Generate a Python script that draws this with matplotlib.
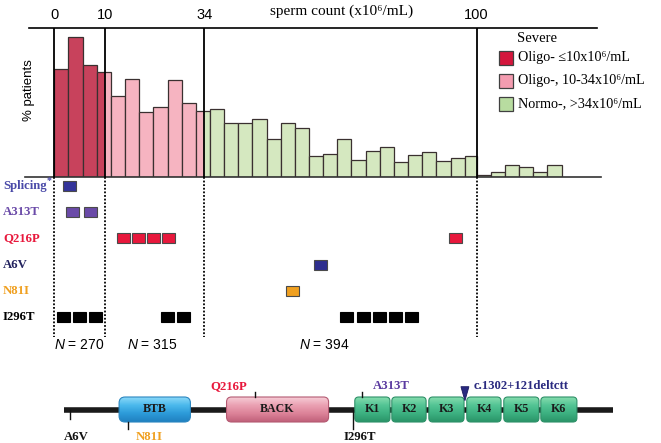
import numpy as np
import matplotlib.pyplot as plt
from matplotlib.patches import Rectangle, FancyBboxPatch, Polygon
from matplotlib.colors import LinearSegmentedColormap

plt.rcParams['mathtext.fontset'] = 'custom'
plt.rcParams['mathtext.it'] = 'Liberation Sans:italic'
plt.rcParams['mathtext.rm'] = 'Liberation Sans'

SERIF = ['Liberation Serif', 'DejaVu Serif']
SANS = ['Liberation Sans', 'DejaVu Sans']

# % patients per sperm-count bin (bins drawn with equal width)
pct_main = [7.25, 9.4, 7.54, 7.03, 5.42, 6.56, 4.36, 4.68, 6.54, 4.97,
            4.46, 4.56, 3.6, 3.6, 3.89, 2.55, 3.64, 3.29, 1.43, 1.54,
            2.55, 1.16, 1.77, 2.01, 1.03, 1.46, 1.68, 1.09, 1.3, 1.41]
pct_tail = [0.13, 0.36, 0.78, 0.64, 0.34, 0.78]   # > 100 x10^6/mL

cut_labels = ['0', '10', '34', '100']
cut_pos = [0, 3.56, 10.61, 29.85]   # cut-offs on the bin axis

group_n = ['270', '315', '394']
group_n_pos = [1.75, 6.9, 19.1]

leg_labels = ['Oligo- \u226410x10\u2076/mL', 'Oligo-, 10-34x10\u2076/mL',
              'Normo-, >34x10\u2076/mL']
leg_colors = ['#d4163c', '#f49cb0', '#b8dca0']

# carriers of each variant, placed on the bin axis
mut_names = ['Splicing', 'A313T', 'Q216P', 'A6V', 'N81I', 'I296T']
mut_colors = ['#34349a', '#6a4aa8', '#e8183c', '#2e2e8e', '#f0a020', '#000000']
mut_text_colors = ['#4a4aa8', '#6a4aa8', '#e8183c', '#22225e', '#f0a020', '#000000']
carriers = [
    [1.07],
    [1.32, 2.57],
    [4.86, 5.94, 7.0, 8.08, 28.37],
    [18.8],
    [16.8],
    [0.64, 1.77, 2.93, 7.98, 9.12, 20.66, 21.82, 22.95, 24.09, 25.23],
]

# protein schematic (schematic residue positions)
prot_len = 608
dom_names = ['BTB', 'BACK', 'K1', 'K2', 'K3', 'K4', 'K5', 'K6']
dom_start = [61, 180, 322, 363, 404, 446, 487, 528]
dom_end = [140, 293, 361, 401, 443, 484, 526, 568]
site_names = ['A6V', 'N81I', 'Q216P', 'I296T', 'A313T']
site_pos = [6.6, 70.5, 212, 320, 330]
site_colors = ['#111111', '#f0a020', '#e8183c', '#111111', '#5a3aa0']
splice_pos = 444
splice_label = 'c.1302+121deltctt'

W, H = 661, 443
fig = plt.figure(figsize=(W / 100, H / 100), dpi=100)


def fx(px):
    return px / W


def fy(py):
    return 1 - py / H


BIN_PX, X0_PX = 14.15, 54.3
xlim = (-X0_PX / BIN_PX, (W - X0_PX) / BIN_PX)

# ---- histogram ----
ax = fig.add_axes([0, fy(177), 1, (177 - 28) / H])
ax.set_xlim(*xlim)
ax.set_ylim(0, 10)
ax.axis('off')

dark, pink, green = '#c8425c', '#f6b4c1', '#d5e8c0'
edge = '#3a3030'
segs = [(cut_pos[0], cut_pos[1], dark), (cut_pos[1], cut_pos[2], pink),
        (cut_pos[2], cut_pos[3], green)]
for i, h in enumerate(pct_main):
    left, right = i, min(i + 1, cut_pos[3])
    for a, b, c in segs:
        l, r = max(left, a), min(right, b)
        if r > l:
            ax.bar(l, h, width=r - l, align='edge', color=c, lw=0)
    ax.bar(left, h, width=right - left, align='edge', fill=False,
           edgecolor=edge, lw=0.9)
ax.bar(cut_pos[3] + np.arange(len(pct_tail)), pct_tail, width=1,
       align='edge', color=green, edgecolor=edge, lw=0.9)

ax.vlines(cut_pos, 0, 10, color='black', lw=1.3, zorder=4)
ax.plot([-1.79, 38.36], [10, 10], color='black', lw=1.2, clip_on=False)
ax.plot([-2.07, 38.65], [0, 0], color='#333333', lw=1.2, clip_on=False)
for p, lab in zip(cut_pos, cut_labels):
    ax.annotate(lab, xy=(p, 1), xycoords=('data', 'axes fraction'),
                xytext=(0, 9.5), textcoords='offset points', ha='center',
                va='center', fontsize=10.5, family=SANS)

fig.text(fx(342), fy(11), 'sperm count (x10\u2076/mL)', ha='center',
         va='center', fontsize=11, family=SERIF)
fig.text(fx(29), fy(90), '% patients', rotation=90, ha='center',
         va='center', fontsize=9.5, family=SANS)

# legend drawn by hand
fig.text(fx(517.5), fy(38), 'Severe', ha='left', va='center',
         fontsize=10.5, family=SERIF)
for k, (lab, c) in enumerate(zip(leg_labels, leg_colors)):
    yc = 57.5 + 23.3 * k
    fig.add_artist(Rectangle((fx(499), fy(yc + 7)), 14 / W, 14 / H,
                             transform=fig.transFigure, fc=c,
                             ec='#404040', lw=0.9))
    fig.text(fx(518), fy(yc), lab, ha='left', va='center',
             fontsize=10.2, family=SERIF)

# ---- carrier rows ----
ROW0, ROW_PX = 186, 26.2
ax2 = fig.add_axes([0, fy(345), 1, (345 - 177) / H])
ax2.set_xlim(*xlim)
ax2.set_ylim((345 - ROW0) / ROW_PX, (177 - ROW0) / ROW_PX)
ax2.axis('off')
ax2.vlines(cut_pos, (177 - ROW0) / ROW_PX, (337 - ROW0) / ROW_PX,
           color='black', lw=1.3, linestyles=(0, (1, 1)))
sw, sh = 13 / BIN_PX, 10 / ROW_PX
for r, (name, c, tc, xs) in enumerate(zip(mut_names, mut_colors,
                                           mut_text_colors, carriers)):
    for x in xs:
        ec = 'black' if c == '#000000' else '#4a4a4a'
        ax2.add_patch(Rectangle((x - sw / 2, r - sh / 2), sw, sh, fc=c,
                                ec=ec, lw=0.8))
    ax2.text((3 - X0_PX) / BIN_PX, r, name, ha='left', va='center',
             fontsize=9.2, fontweight='bold', family=SERIF, color=tc)
ax2.text((46.5 - X0_PX) / BIN_PX, -0.2, '*', ha='left', va='center',
         fontsize=7, fontweight='bold', family=SERIF, color=mut_text_colors[0])
for p, n in zip(group_n_pos, group_n):
    ax2.text(p, (345 - ROW0) / ROW_PX, r'$N$ = ' + n, ha='center',
             va='center', fontsize=10, family=SANS)

# ---- protein schematic ----
PX_PER_RES, P0_PX, PY = 0.903, 64, 409.5
ax3 = fig.add_axes([0, 0, 1, (443 - 365) / H])
ax3.plot([0, prot_len], [0, 0], color='#1a1a1a', lw=4, solid_capstyle='butt',
         zorder=1)

dom_style = {
    'BTB': (['#8ad8f8', '#4ab8ec', '#2c9ad8', '#2080c0'], '#2a86c0', 6),
    'BACK': (['#f6ccd6', '#eaa0b2', '#dc8298', '#c0607a'], '#b45a72', 5),
    'K': (['#86dcae', '#52c494', '#3cb080', '#2a9468'], '#2e9068', 4),
}
hh = 12.5 / PX_PER_RES
grad = np.linspace(0, 1, 64).reshape(-1, 1)
for name, a, b in zip(dom_names, dom_start, dom_end):
    cols, ec, rnd = dom_style.get(name, dom_style['K'])
    box = FancyBboxPatch((a, -hh), b - a, 2 * hh,
                         boxstyle=f'round,pad=0,rounding_size={rnd / PX_PER_RES}',
                         fc='none', ec=ec, lw=0.8, zorder=3)
    ax3.add_patch(box)
    cmap = LinearSegmentedColormap.from_list(name, cols)
    im = ax3.imshow(grad, cmap=cmap, extent=(a, b, -hh, hh), origin='upper',
                    aspect='auto', zorder=2)
    im.set_clip_path(box)
    ax3.text((a + b) / 2, 0, name, ha='center', va='center', fontsize=8.6,
             fontweight='bold', family=SERIF, color='#1a1a1a', zorder=4)
ax3.set_xlim(-P0_PX / PX_PER_RES, (W - P0_PX) / PX_PER_RES)
ax3.set_ylim(-(443 - PY) / PX_PER_RES, (PY - 365) / PX_PER_RES)
ax3.axis('off')

# tick (y0, y1) in px from centre, label x offset (px) and label y (px)
site_layout = {
    'A6V': ((0, 9), -6, 437),
    'N81I': ((12.5, 19), 8, 437),
    'Q216P': ((-12.5, -17.5), -45, 386.5),
    'I296T': ((0, 19), -9, 437.5),
    'A313T': ((-12.5, -17.5), 11, 386),
}
for name, p, c in zip(site_names, site_pos, site_colors):
    (t0, t1), dx, ly = site_layout[name]
    ax3.plot([p, p], [-t0 / PX_PER_RES, -t1 / PX_PER_RES], color='#111111',
             lw=1, zorder=5)
    ax3.text(p + dx / PX_PER_RES, (PY - ly) / PX_PER_RES, name, ha='left',
             va='center', fontsize=9.2, fontweight='bold', family=SERIF, color=c)

tri_w, tri_top, tri_bot = 4 / PX_PER_RES, (PY - 386.7) / PX_PER_RES, (PY - 400.7) / PX_PER_RES
ax3.add_patch(Polygon([[splice_pos - tri_w, tri_top], [splice_pos + tri_w, tri_top],
                       [splice_pos, tri_bot]], closed=True, fc='#2a2a80',
                      ec='#1a1a60', lw=0.6, zorder=5))
ax3.text(splice_pos + 9 / PX_PER_RES, (PY - 386) / PX_PER_RES, splice_label,
         ha='left', va='center', fontsize=9.2, fontweight='bold', family=SERIF,
         color='#2a2a80')

fig.savefig('out.png', dpi=100)
